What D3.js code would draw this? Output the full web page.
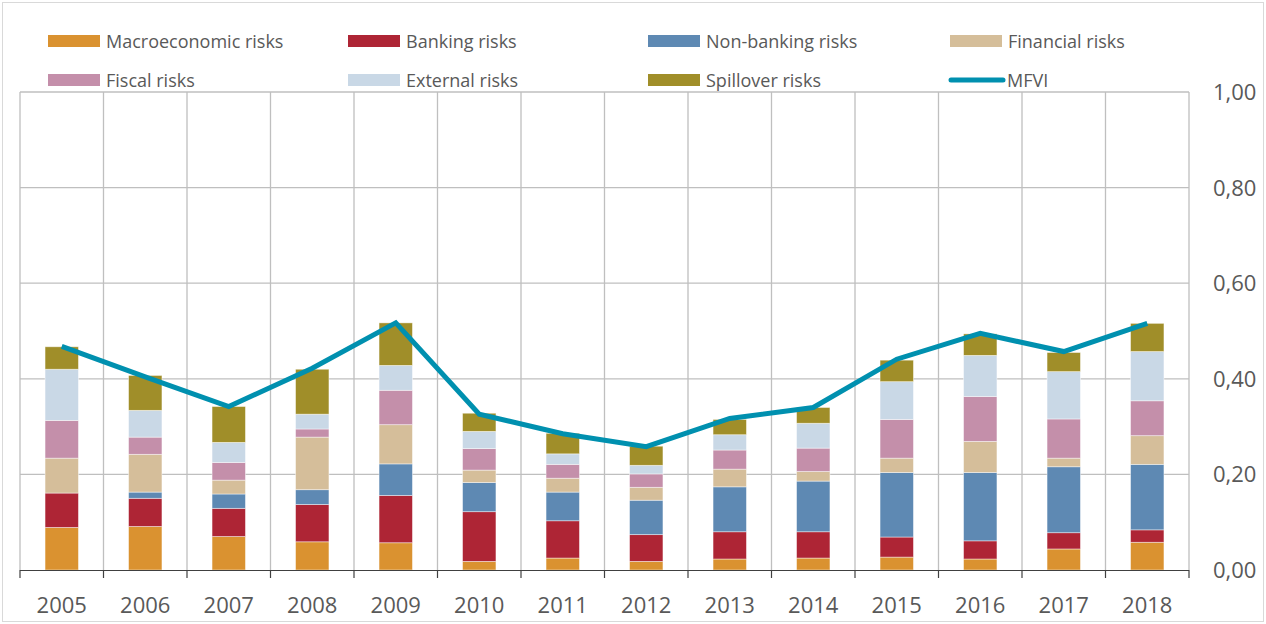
<!DOCTYPE html>
<html>
<head>
<meta charset="utf-8">
<script src="https://cdn.jsdelivr.net/npm/d3@7"></script>
<style>
  html, body { margin: 0; padding: 0; background: #fff; }
  svg { display: block; font-family: "Open Sans", "DejaVu Sans", sans-serif; }
</style>
</head>
<body>
<svg id="chart" width="1266" height="624"></svg>
<script>
const years = ["2005","2006","2007","2008","2009","2010","2011","2012","2013","2014","2015","2016","2017","2018"];
const seriesNames = ["Macroeconomic risks","Banking risks","Non-banking risks","Financial risks","Fiscal risks","External risks","Spillover risks"];
const macro     = [0.089,0.091,0.070,0.059,0.057,0.018,0.025,0.018,0.023,0.025,0.027,0.023,0.044,0.058];
const banking   = [0.072,0.059,0.059,0.078,0.099,0.104,0.078,0.056,0.057,0.055,0.042,0.038,0.034,0.026];
const nonbank   = [0.000,0.013,0.030,0.031,0.066,0.061,0.060,0.072,0.094,0.106,0.135,0.143,0.138,0.137];
const financial = [0.073,0.079,0.029,0.110,0.082,0.026,0.029,0.027,0.037,0.020,0.030,0.065,0.018,0.060];
const fiscal    = [0.079,0.036,0.037,0.017,0.072,0.045,0.029,0.028,0.040,0.049,0.081,0.094,0.082,0.073];
const external  = [0.107,0.056,0.042,0.031,0.052,0.036,0.022,0.018,0.032,0.052,0.079,0.086,0.099,0.103];
const spillover = [0.047,0.073,0.075,0.094,0.089,0.038,0.043,0.040,0.032,0.033,0.045,0.045,0.040,0.059];
const mfvi      = [0.468,0.404,0.342,0.422,0.517,0.326,0.285,0.258,0.317,0.340,0.441,0.495,0.457,0.516];
const yTicks    = [0, 0.2, 0.4, 0.6, 0.8, 1.0];
const colors    = ["#DA9230","#AE2535","#5E89B3","#D5BE9A","#C48FAA","#C9D8E6","#A08E29"];
const lineColor = "#0090AF";

const seriesValues = [macro, banking, nonbank, financial, fiscal, external, spillover];
const table = years.map((yr, i) => {
  const row = { year: yr };
  seriesNames.forEach((s, k) => row[s] = seriesValues[k][i]);
  return row;
});

const svg = d3.select("#chart");
const pLeft = 20, pRight = 1189, pTop = 92, pBottom = 570;

// outer border
svg.append("rect").attr("x", 2.5).attr("y", 2.5).attr("width", 1261).attr("height", 619)
  .attr("fill", "#fff").attr("stroke", "#d9d9d9").attr("stroke-width", 1);

const x = d3.scaleBand().domain(years).range([pLeft, pRight]).paddingInner(0.6).paddingOuter(0.3);
const y = d3.scaleLinear().domain([0, 1]).range([pBottom, pTop]);
const step = x.step();

// horizontal gridlines
svg.append("g").selectAll("line").data(yTicks.filter(t => t > 0)).join("line")
  .attr("x1", pLeft).attr("x2", pRight)
  .attr("y1", d => y(d)).attr("y2", d => y(d))
  .attr("stroke", "#bfbfbf").attr("stroke-width", 1.3);

// vertical gridlines at category boundaries
const bounds = d3.range(years.length + 1).map(i => pLeft + i * step);
svg.append("g").selectAll("line").data(bounds).join("line")
  .attr("x1", d => d).attr("x2", d => d)
  .attr("y1", pTop).attr("y2", pBottom)
  .attr("stroke", "#bfbfbf").attr("stroke-width", 1.3);

// stacked bars
const stack = d3.stack().keys(seriesNames)(table);
svg.append("g").selectAll("g").data(stack).join("g")
  .attr("fill", (d, i) => colors[i])
  .selectAll("rect").data(d => d).join("rect")
  .attr("x", d => x(d.data.year))
  .attr("width", x.bandwidth())
  .attr("y", d => y(d[1]))
  .attr("height", d => Math.max(0, y(d[0]) - y(d[1])))
  .attr("stroke", "rgba(255,255,255,0.55)").attr("stroke-width", 0.8);

// x axis
const xAxis = svg.append("g");
xAxis.append("line").attr("x1", pLeft).attr("x2", pRight).attr("y1", pBottom + 0.5).attr("y2", pBottom + 0.5)
  .attr("stroke", "#404040").attr("stroke-width", 1.2);
xAxis.selectAll("line.tick").data(bounds).join("line").attr("class", "tick")
  .attr("x1", d => d).attr("x2", d => d).attr("y1", pBottom).attr("y2", pBottom + 8)
  .attr("stroke", "#404040").attr("stroke-width", 1.2);
xAxis.selectAll("text").data(years).join("text")
  .attr("x", d => x(d) + x.bandwidth() / 2)
  .attr("y", 613)
  .attr("text-anchor", "middle")
  .attr("font-size", 22).attr("fill", "#595959")
  .text(d => d);

// right y axis labels
const fmt = v => d3.format(".2f")(v).replace(".", ",");
svg.append("g").selectAll("text").data(yTicks).join("text")
  .attr("x", 1213).attr("y", d => y(d) + 8)
  .attr("font-size", 22).attr("fill", "#595959")
  .text(d => fmt(d));

// MFVI line
const line = d3.line().x((d, i) => x(years[i]) + x.bandwidth() / 2).y(d => y(d));
svg.append("path").datum(mfvi).attr("d", line)
  .attr("fill", "none").attr("stroke", lineColor).attr("stroke-width", 5)
  .attr("stroke-linejoin", "miter");

// legend
const legendCols = [48, 348, 648, 950];
const legendRows = [41, 80];
const legendItems = seriesNames.map((s, i) => ({ name: s, color: colors[i], type: "rect" }))
  .concat([{ name: "MFVI", color: lineColor, type: "line" }]);
const lg = svg.append("g").selectAll("g").data(legendItems).join("g")
  .attr("transform", (d, i) => `translate(${legendCols[i % 4]},${legendRows[Math.floor(i / 4)]})`);
lg.filter(d => d.type === "rect").append("rect")
  .attr("x", 0).attr("y", -6).attr("width", 52).attr("height", 12).attr("fill", d => d.color);
lg.filter(d => d.type === "line").append("line")
  .attr("x1", 1).attr("x2", 53).attr("y1", 0).attr("y2", 0)
  .attr("stroke", d => d.color).attr("stroke-width", 5).attr("stroke-linecap", "round");
lg.append("text").attr("x", d => d.type === "line" ? 57 : 58).attr("y", 6.5)
  .attr("font-size", 18).attr("fill", "#595959").text(d => d.name);
</script>
</body>
</html>
